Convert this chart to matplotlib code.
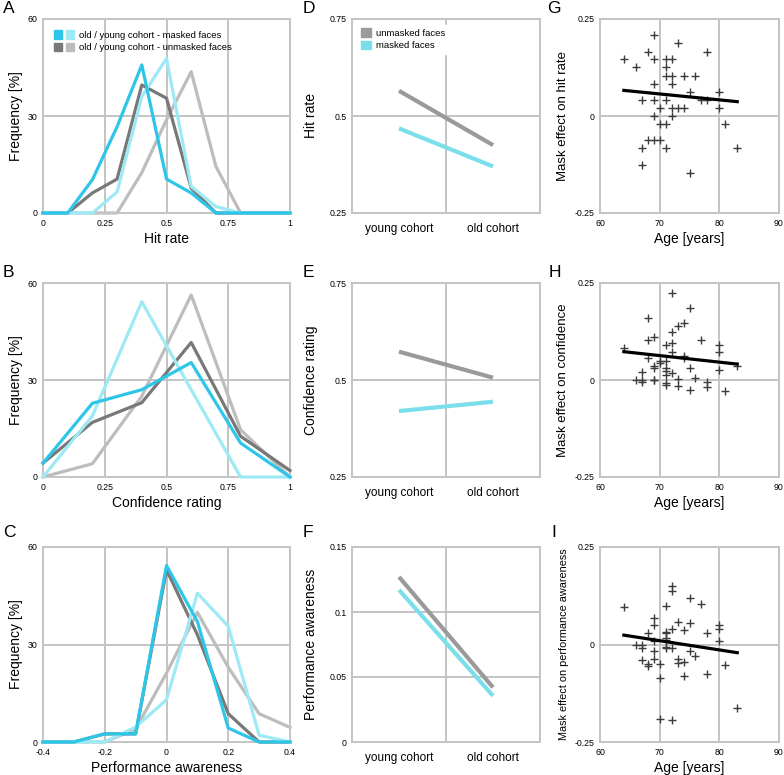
import numpy as np
import matplotlib
matplotlib.use("Agg")
from matplotlib import pyplot as plt
from matplotlib.patches import Patch
from matplotlib.legend_handler import HandlerTuple

plt.rcParams['font.family'] = ['Liberation Sans', 'DejaVu Sans']
plt.rcParams['axes.unicode_minus'] = False

# colores
c_old_mask = '#2ec6e8'
c_young_mask = '#9deaf6'
c_old_unmask = '#787878'
c_young_unmask = '#bdbdbd'
c_grid = '#c4c4c4'

# ---- A: hit rate histograms
hit_bins = [0, 0.1, 0.2, 0.3, 0.4, 0.5, 0.6, 0.7, 0.8, 0.9, 1.0]
hit_old_mask = [0, 0, 10.3, 26.7, 45.8, 10.5, 6.2, 0, 0, 0, 0]
hit_young_mask = [0, 0, 0, 6.5, 36, 47.8, 8.2, 2, 0, 0, 0]
hit_old_unmask = [0, 0, 6.2, 10.5, 39.6, 35.5, 7.7, 0, 0, 0, 0]
hit_young_unmask = [0, 0, 0, 0, 12.5, 28.8, 43.7, 14.4, 0, 0, 0]

# ---- B: confidence histograms
conf_bins = [0, 0.2, 0.4, 0.6, 0.8, 1.0]
conf_old_mask = [4.3, 22.8, 27, 35.4, 10.5, 0]
conf_young_mask = [0, 18.9, 54.2, 27, 0, 0]
conf_old_unmask = [4.3, 16.9, 23, 41.6, 12.6, 2]
conf_young_unmask = [0, 4.1, 25, 56.3, 14.6, 0]

# ---- C: performance awareness histograms
pa_bins = [-0.4, -0.3, -0.2, -0.1, 0, 0.1, 0.2, 0.3, 0.4]
pa_old_mask = [0, 0, 2.5, 2.5, 54.3, 37.1, 4.3, 0, 0]
pa_young_mask = [0, 0, 0, 4.6, 13, 45.8, 35.6, 2.1, 0]
pa_old_unmask = [0, 0, 2.5, 2.5, 53, 33, 8.7, 0, 0]
pa_young_unmask = [0, 0, 0, 4, 21.2, 39.9, 23, 8.7, 4.5]

# ---- D-F: medias por cohorte
cohorts = ['young cohort', 'old cohort']
hit_unmasked = [0.565, 0.425]
hit_masked = [0.468, 0.370]
conf_unmasked = [0.573, 0.506]
conf_masked = [0.420, 0.444]
pa_unmasked = [0.127, 0.042]
pa_masked = [0.117, 0.0355]

# ---- G-I: efecto de la mascarilla vs edad
age_g = [69, 73, 64, 68, 69, 71, 72, 66, 71, 71, 72, 74, 76, 78, 69, 72, 75, 80,
         67, 69, 71, 77, 78, 70, 72, 73, 74, 80, 69, 72, 70, 71, 81, 68, 69, 70,
         67, 71, 83, 67, 75]
eff_g = [0.208, 0.187, 0.146, 0.166, 0.146, 0.146, 0.146, 0.125, 0.125, 0.104,
         0.104, 0.104, 0.104, 0.166, 0.083, 0.083, 0.063, 0.063, 0.042, 0.042,
         0.042, 0.042, 0.042, 0.021, 0.021, 0.021, 0.021, 0.021, 0, 0, -0.021,
         -0.021, -0.021, -0.063, -0.063, -0.063, -0.083, -0.083, -0.083, -0.125,
         -0.146]

age_h = [72, 75, 68, 74, 73, 72, 69, 68, 77, 71, 72, 80, 64, 72, 80, 74, 74, 68,
         70, 71, 70, 69, 69, 71, 75, 71, 67, 72, 71, 83, 80, 66, 67, 67, 69, 69,
         73, 76, 71, 71, 73, 78, 78, 75, 81]
eff_h = [0.225, 0.186, 0.159, 0.146, 0.139, 0.125, 0.110, 0.103, 0.103, 0.091,
         0.096, 0.091, 0.082, 0.073, 0.073, 0.062, 0.056, 0.056, 0.049, 0.049,
         0.043, 0.036, 0.032, 0.030, 0.030, 0.022, 0.020, 0.018, 0.013, 0.035,
         0.026, 0, -0.001, -0.004, 0, 0.001, 0.003, 0.005, -0.008, -0.012,
         -0.015, -0.006, -0.019, -0.025, -0.029]

age_i = [72, 72, 75, 77, 64, 71, 69, 69, 73, 75, 80, 80, 72, 74, 71, 71, 68, 78,
         80, 69, 71, 71, 66, 67, 67, 71, 71, 72, 69, 75, 76, 69, 67, 73, 73, 74,
         70, 68, 68, 81, 78, 74, 70, 83, 70, 72]
eff_i = [0.150, 0.138, 0.119, 0.103, 0.097, 0.099, 0.067, 0.050, 0.057, 0.056,
         0.050, 0.039, 0.039, 0.037, 0.033, 0.029, 0.030, 0.030, 0.010, 0.009,
         0.016, 0.012, 0, 0, -0.008, -0.006, -0.008, -0.010, -0.017, -0.017,
         -0.030, -0.036, -0.039, -0.036, -0.047, -0.045, -0.049, -0.051, -0.054,
         -0.053, -0.075, -0.080, -0.087, -0.162, -0.190, -0.194]

# recta de regresion (extremos)
trend_age = [64, 83]
trend_g = [0.066, 0.037]
trend_h = [0.073, 0.041]
trend_i = [0.024, -0.021]

W, H = 784, 775
fig = plt.figure(figsize=(W / 100, H / 100), dpi=100)


def px_axes(x0, y0, x1, y1):
    # crea ejes a partir de coordenadas en pixeles (arriba-izquierda)
    return fig.add_axes([x0 / W, (H - y1) / H, (x1 - x0) / W, (y1 - y0) / H])


def style(ax, xlim, ylim, xticks, yticks, xlabels, ylabels, vgrid, hgrid):
    ax.set_xlim(xlim)
    ax.set_ylim(ylim)
    ax.set_xticks(xticks)
    ax.set_xticklabels(xlabels)
    ax.set_yticks(yticks)
    ax.set_yticklabels(ylabels)
    ax.tick_params(length=0, labelsize=6.3, pad=4)
    for s in ax.spines.values():
        s.set_color(c_grid)
        s.set_linewidth(1.4)
    for v in vgrid:
        ax.axvline(v, color=c_grid, lw=1.4, zorder=0)
    for h in hgrid:
        ax.axhline(h, color=c_grid, lw=1.4, zorder=0)


def letter(x, y, s):
    fig.text(x / W, 1 - y / H, s, fontsize=12.5, va='top', ha='left')


# ---------------- columna 1: histogramas
rows_y = [(19, 213), (283, 477), (547, 742)]
hist_sets = [
    (hit_bins, hit_young_unmask, hit_old_unmask, hit_young_mask, hit_old_mask, 'Hit rate'),
    (conf_bins, conf_young_unmask, conf_old_unmask, conf_young_mask, conf_old_mask, 'Confidence rating'),
    (pa_bins, pa_young_unmask, pa_old_unmask, pa_young_mask, pa_old_mask, 'Performance awareness'),
]
for k, (bins, yu, ou, ym, om, lab) in enumerate(hist_sets):
    ax = px_axes(43, rows_y[k][0], 290, rows_y[k][1])
    if k < 2:
        style(ax, (0, 1), (0, 60), [0, 0.25, 0.5, 0.75, 1], [0, 30, 60],
              ['0', '0.25', '0.5', '0.75', '1'], ['0', '30', '60'],
              [0.25, 0.5, 0.75], [30])
    else:
        style(ax, (-0.4, 0.4), (0, 60), [-0.4, -0.2, 0, 0.2, 0.4], [0, 30, 60],
              ['-0.4', '-0.2', '0', '0.2', '0.4'], ['0', '30', '60'],
              [-0.2, 0, 0.2], [30])
    ax.plot(bins, yu, color=c_young_unmask, lw=2.3, clip_on=False, zorder=2)
    ax.plot(bins, ou, color=c_old_unmask, lw=2.3, clip_on=False, zorder=3)
    ax.plot(bins, ym, color=c_young_mask, lw=2.3, clip_on=False, zorder=4)
    ax.plot(bins, om, color=c_old_mask, lw=2.3, clip_on=False, zorder=5)
    ax.set_xlabel(lab, fontsize=10, labelpad=3)
    ax.set_ylabel('Frequency [%]', fontsize=10, labelpad=3)
    if k == 0:
        handles = [(Patch(color=c_old_mask), Patch(color=c_young_mask)),
                   (Patch(color=c_old_unmask), Patch(color=c_young_unmask))]
        ax.legend(handles, ['old / young cohort - masked faces',
                            'old / young cohort - unmasked faces'],
                  handler_map={tuple: HandlerTuple(ndivide=None, pad=0.4)},
                  loc='upper left', bbox_to_anchor=(0.02, 0.97), frameon=False,
                  fontsize=6.8, handlelength=2.2, handleheight=1.0,
                  handletextpad=0.5, labelspacing=0.3, borderaxespad=0.2)

# ---------------- columna 2: medias por cohorte
mean_sets = [
    (hit_unmasked, hit_masked, 'Hit rate', (0.25, 0.75), [0.25, 0.5, 0.75], ['0.25', '0.5', '0.75'], [0.5]),
    (conf_unmasked, conf_masked, 'Confidence rating', (0.25, 0.75), [0.25, 0.5, 0.75], ['0.25', '0.5', '0.75'], [0.5]),
    (pa_unmasked, pa_masked, 'Performance awareness', (0, 0.15), [0, 0.05, 0.1, 0.15], ['0', '0.05', '0.1', '0.15'], [0.05, 0.1]),
]
xpos = [0.5, 1.5]
for k, (un, ma, lab, ylim, yt, ytl, hg) in enumerate(mean_sets):
    ax = px_axes(352, rows_y[k][0], 540, rows_y[k][1])
    style(ax, (0, 2), ylim, xpos, yt, cohorts, ytl, [1], hg)
    ax.tick_params(axis='x', labelsize=8.5, pad=7)
    ax.plot(xpos, un, color='#9a9a9a', lw=3, solid_capstyle='butt', zorder=3)
    ax.plot(xpos, ma, color='#7adfeb', lw=3, solid_capstyle='butt', zorder=3)
    ax.set_ylabel(lab, fontsize=10, labelpad=8)
    if k == 0:
        leg = ax.legend([Patch(color='#9a9a9a'), Patch(color='#7adfeb')],
                        ['unmasked faces', 'masked faces'], loc='upper left',
                        bbox_to_anchor=(0.0, 1.0), fontsize=6.8, frameon=True,
                        handlelength=1.0, handleheight=1.0, handletextpad=0.5,
                        labelspacing=0.3, borderaxespad=0.6, fancybox=False)
        leg.get_frame().set_edgecolor('white')
        leg.get_frame().set_alpha(1)
        leg.set_zorder(4)

# ---------------- columna 3: efecto vs edad
scatter_sets = [
    (age_g, eff_g, trend_g, 'Mask effect on hit rate', 9.5),
    (age_h, eff_h, trend_h, 'Mask effect on confidence', 9.5),
    (age_i, eff_i, trend_i, 'Mask effect on performance awareness', 7.8),
]
for k, (ages, eff, tr, lab, fs) in enumerate(scatter_sets):
    ax = px_axes(600, rows_y[k][0], 779, rows_y[k][1])
    style(ax, (60, 90), (-0.25, 0.25), [60, 70, 80, 90], [-0.25, 0, 0.25],
          ['60', '70', '80', '90'], ['-0.25', '0', '0.25'], [70, 80], [0])
    ax.plot(ages, eff, linestyle='none', marker='+', color='#3c3c3c',
            markersize=5.5, markeredgewidth=1.0, zorder=3)
    ax.plot(trend_age, tr, color='black', lw=2.3, zorder=4)
    ax.set_xlabel('Age [years]', fontsize=10, labelpad=3)
    ax.set_ylabel(lab, fontsize=fs, labelpad=4)

# letras de panel
letter(3, 1, 'A')
letter(3, 265, 'B')
letter(3, 525, 'C')
letter(303, 1, 'D')
letter(303, 265, 'E')
letter(303, 525, 'F')
letter(547, 1, 'G')
letter(549, 265, 'H')
letter(551, 525, 'I')

fig.savefig('out.png', dpi=100)
